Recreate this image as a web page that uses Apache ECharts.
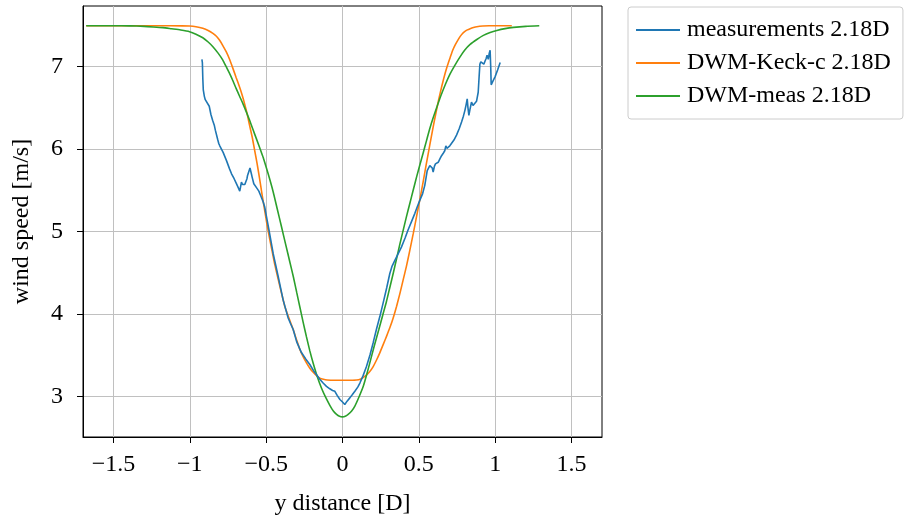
<!DOCTYPE html>
<html>
<head>
<meta charset="utf-8">
<script src="https://cdn.jsdelivr.net/npm/echarts@6/dist/echarts.min.js"></script>
<style>
html,body{margin:0;padding:0;background:#fff;}
#c{width:916px;height:519px;}
</style>
</head>
<body>
<div id="c"></div>
<script>
const seriesNames = ['measurements 2.18D', 'DWM-Keck-c 2.18D', 'DWM-meas 2.18D'];
const xTicks = [-1.5, -1, -0.5, 0, 0.5, 1, 1.5];
const yTicks = [3, 4, 5, 6, 7];

const measurements = [
  [-0.921, 7.09], [-0.918, 7.05], [-0.915, 6.85], [-0.912, 6.72], [-0.905, 6.64], [-0.899, 6.60], [-0.873, 6.52],
  [-0.862, 6.42], [-0.851, 6.35], [-0.840, 6.29], [-0.833, 6.23], [-0.825, 6.21], [-0.818, 6.12], [-0.811, 6.07],
  [-0.804, 6.04], [-0.795, 6.02], [-0.782, 5.96], [-0.760, 5.86], [-0.740, 5.76], [-0.727, 5.70], [-0.710, 5.64],
  [-0.695, 5.58], [-0.680, 5.52], [-0.673, 5.49], [-0.666, 5.56], [-0.662, 5.60], [-0.655, 5.57], [-0.651, 5.56],
  [-0.640, 5.57], [-0.633, 5.57], [-0.626, 5.64], [-0.622, 5.68], [-0.612, 5.70], [-0.606, 5.77], [-0.603, 5.76],
  [-0.597, 5.70], [-0.592, 5.66], [-0.581, 5.58], [-0.570, 5.56], [-0.559, 5.52], [-0.548, 5.49], [-0.537, 5.44],
  [-0.520, 5.36], [-0.510, 5.30], [-0.502, 5.22], [-0.480, 5.00], [-0.454, 4.73], [-0.421, 4.45], [-0.389, 4.17],
  [-0.356, 3.95], [-0.340, 3.88], [-0.323, 3.81], [-0.300, 3.66], [-0.269, 3.53], [-0.240, 3.45], [-0.214, 3.385],
  [-0.190, 3.31], [-0.170, 3.26], [-0.150, 3.21], [-0.127, 3.16], [-0.105, 3.12], [-0.083, 3.09], [-0.065, 3.07],
  [-0.050, 3.06], [-0.035, 3.01], [-0.017, 2.96], [0.000, 2.93], [0.015, 2.90], [0.030, 2.94], [0.048, 2.98],
  [0.065, 3.02], [0.081, 3.06], [0.100, 3.11], [0.114, 3.16], [0.135, 3.25], [0.157, 3.36], [0.180, 3.50],
  [0.201, 3.65], [0.222, 3.81], [0.245, 3.97], [0.266, 4.13], [0.290, 4.32], [0.310, 4.49], [0.325, 4.58],
  [0.343, 4.65], [0.365, 4.73], [0.386, 4.81], [0.410, 4.92], [0.430, 5.02], [0.452, 5.12], [0.474, 5.22],
  [0.490, 5.30], [0.507, 5.38], [0.525, 5.46], [0.539, 5.56], [0.548, 5.66], [0.555, 5.74], [0.563, 5.76],
  [0.572, 5.80], [0.578, 5.82], [0.583, 5.82], [0.588, 5.77], [0.594, 5.72], [0.602, 5.79], [0.609, 5.82],
  [0.618, 5.81], [0.627, 5.84], [0.638, 5.88], [0.649, 5.92], [0.660, 5.95], [0.670, 5.98], [0.677, 6.04],
  [0.684, 6.01], [0.692, 6.02], [0.703, 6.04], [0.714, 6.06], [0.730, 6.11], [0.747, 6.17], [0.765, 6.25],
  [0.780, 6.33], [0.792, 6.40], [0.802, 6.47], [0.810, 6.54], [0.817, 6.61], [0.822, 6.50], [0.828, 6.41],
  [0.836, 6.49], [0.845, 6.57], [0.855, 6.53], [0.867, 6.51], [0.878, 6.58], [0.889, 6.69], [0.895, 6.88],
  [0.900, 7.03], [0.906, 7.06], [0.911, 7.07], [0.919, 7.08], [0.926, 7.03], [0.934, 7.07], [0.941, 7.10],
  [0.947, 7.14], [0.955, 7.09], [0.961, 7.16], [0.967, 7.20], [0.971, 7.00], [0.974, 6.78], [0.987, 6.83],
  [1.000, 6.88], [1.016, 6.96], [1.033, 7.05]
];

const dwmKeck = [
  [-1.679, 7.497], [-1.40, 7.497], [-1.20, 7.497], [-1.05, 7.496], [-1.002, 7.494], [-0.96, 7.485], [-0.915, 7.466],
  [-0.88, 7.44], [-0.849, 7.405], [-0.826, 7.37], [-0.806, 7.324], [-0.785, 7.26], [-0.762, 7.182], [-0.74, 7.09],
  [-0.718, 6.98], [-0.697, 6.87], [-0.675, 6.757], [-0.658, 6.66], [-0.642, 6.555], [-0.625, 6.43], [-0.609, 6.291],
  [-0.592, 6.15], [-0.576, 5.99], [-0.56, 5.83], [-0.544, 5.65], [-0.528, 5.46], [-0.512, 5.28], [-0.495, 5.09],
  [-0.478, 4.92], [-0.462, 4.77], [-0.446, 4.62], [-0.43, 4.49], [-0.41, 4.33], [-0.394, 4.21],
  [-0.378, 4.09], [-0.363, 4.01], [-0.349, 3.94], [-0.323, 3.81], [-0.30, 3.68], [-0.28, 3.57], [-0.258, 3.48],
  [-0.236, 3.405], [-0.214, 3.34], [-0.192, 3.29], [-0.17, 3.25], [-0.149, 3.22], [-0.125, 3.205], [-0.10, 3.197],
  [-0.05, 3.194], [0.00, 3.194], [0.05, 3.194], [0.092, 3.196], [0.12, 3.21], [0.146, 3.24], [0.175, 3.29],
  [0.201, 3.36], [0.223, 3.44], [0.245, 3.53], [0.267, 3.63], [0.289, 3.73], [0.31, 3.83], [0.332, 3.95],
  [0.354, 4.09], [0.375, 4.24], [0.397, 4.41], [0.419, 4.58], [0.441, 4.77], [0.463, 4.97], [0.485, 5.18],
  [0.507, 5.39], [0.528, 5.60], [0.55, 5.83], [0.572, 6.05], [0.591, 6.24], [0.61, 6.42], [0.63, 6.60],
  [0.65, 6.76], [0.665, 6.87], [0.68, 6.97], [0.692, 7.04], [0.705, 7.11], [0.722, 7.20], [0.74, 7.27],
  [0.755, 7.32], [0.77, 7.365], [0.785, 7.40], [0.80, 7.425], [0.818, 7.447], [0.836, 7.462], [0.858, 7.476],
  [0.88, 7.486], [0.92, 7.494], [0.96, 7.497], [1.00, 7.497], [1.109, 7.497]
];

const dwmMeas = [
  [-1.679, 7.497], [-1.50, 7.497], [-1.395, 7.496], [-1.30, 7.49], [-1.24, 7.483], [-1.177, 7.474], [-1.12, 7.46],
  [-1.06, 7.445], [-1.002, 7.425], [-0.96, 7.395], [-0.915, 7.352], [-0.88, 7.30], [-0.849, 7.243], [-0.815, 7.165],
  [-0.784, 7.081], [-0.762, 7.00], [-0.74, 6.919], [-0.718, 6.83], [-0.697, 6.737], [-0.675, 6.645], [-0.653, 6.555],
  [-0.631, 6.455], [-0.609, 6.352], [-0.587, 6.24], [-0.565, 6.13], [-0.533, 5.968], [-0.52, 5.90], [-0.487, 5.70],
  [-0.454, 5.48], [-0.427, 5.27], [-0.40, 5.06], [-0.372, 4.84], [-0.345, 4.63], [-0.322, 4.45], [-0.30, 4.26],
  [-0.279, 4.08], [-0.258, 3.90], [-0.236, 3.72], [-0.214, 3.55], [-0.192, 3.40], [-0.165, 3.235], [-0.138, 3.10],
  [-0.11, 2.985], [-0.083, 2.89], [-0.06, 2.82], [-0.039, 2.78], [-0.02, 2.757], [0.00, 2.749], [0.018, 2.756],
  [0.037, 2.78], [0.06, 2.82], [0.081, 2.88], [0.108, 2.99], [0.136, 3.12], [0.158, 3.26], [0.179, 3.405],
  [0.208, 3.61], [0.238, 3.81], [0.263, 3.98], [0.288, 4.15], [0.31, 4.32], [0.332, 4.49], [0.353, 4.66],
  [0.375, 4.84], [0.397, 5.01], [0.419, 5.18], [0.441, 5.34], [0.463, 5.50], [0.485, 5.66], [0.507, 5.81],
  [0.528, 5.95], [0.55, 6.10], [0.572, 6.25], [0.594, 6.38], [0.62, 6.52], [0.645, 6.65], [0.675, 6.79],
  [0.704, 6.91], [0.737, 7.02], [0.77, 7.12], [0.80, 7.20], [0.836, 7.27], [0.88, 7.33], [0.923, 7.38],
  [0.967, 7.415], [1.011, 7.44], [1.065, 7.462], [1.12, 7.477], [1.20, 7.49], [1.289, 7.497]
];

const colors = ['#1f77b4', '#ff7f0e', '#2ca02c'];
const FONT = '"Liberation Serif", "Times New Roman", serif';
const fmt = v => String(v).replace('-', '\u2212');

const chart = echarts.init(document.getElementById('c'), null, {renderer: 'canvas'});
chart.setOption({
  animation: false,
  backgroundColor: '#ffffff',
  color: colors,
  grid: {
    left: 83, right: 314, top: 6, bottom: 82,
    containLabel: false, outerBoundsMode: 'none',
    show: true, borderColor: '#000', borderWidth: 1, backgroundColor: 'transparent'
  },
  legend: {
    orient: 'vertical',
    left: 628, top: 7,
    data: seriesNames,
    itemWidth: 44, itemHeight: 2, itemGap: 9,
    icon: 'rect',
    padding: [11, 12, 11, 8],
    backgroundColor: '#fff',
    borderColor: '#cccccc', borderWidth: 1, borderRadius: 3,
    textStyle: {fontFamily: FONT, fontSize: 24, color: '#000', padding: [0, 0, 0, 2], lineHeight: 22}
  },
  xAxis: {
    type: 'value', min: -1.70, max: 1.70,
    name: 'y distance [D]', nameLocation: 'middle', nameGap: 55, nameMoveOverlap: false,
    nameTextStyle: {fontFamily: FONT, fontSize: 24, color: '#000'},
    axisLine: {show: true, onZero: false, lineStyle: {color: '#000', width: 1}},
    axisTick: {show: true, inside: false, length: 6, lineStyle: {color: '#000'}, customValues: xTicks},
    axisLabel: {customValues: xTicks, formatter: fmt, margin: 16, fontFamily: FONT, fontSize: 24, color: '#000'},
    splitLine: {show: true, lineStyle: {color: '#c0c0c0', width: 1}}
  },
  yAxis: {
    type: 'value', min: 2.505, max: 7.737,
    name: 'wind speed [m/s]', nameLocation: 'middle', nameGap: 49, nameRotate: 90, nameMoveOverlap: false,
    nameTextStyle: {fontFamily: FONT, fontSize: 24, color: '#000'},
    axisLine: {show: true, onZero: false, lineStyle: {color: '#000', width: 1}},
    axisTick: {show: true, inside: false, length: 6, lineStyle: {color: '#000'}, customValues: yTicks},
    axisLabel: {customValues: yTicks, formatter: fmt, margin: 20, fontFamily: FONT, fontSize: 24, color: '#000'},
    splitLine: {show: true, lineStyle: {color: '#c0c0c0', width: 1}}
  },
  series: [
    {name: seriesNames[0], type: 'line', data: measurements, showSymbol: false, symbol: 'none',
     lineStyle: {width: 1.6, color: colors[0]}, z: 3},
    {name: seriesNames[1], type: 'line', data: dwmKeck, showSymbol: false, symbol: 'none', smooth: 0.2,
     lineStyle: {width: 1.6, color: colors[1]}, z: 2},
    {name: seriesNames[2], type: 'line', data: dwmMeas, showSymbol: false, symbol: 'none', smooth: 0.2,
     lineStyle: {width: 1.6, color: colors[2]}, z: 2}
  ]
});
</script>
</body>
</html>
